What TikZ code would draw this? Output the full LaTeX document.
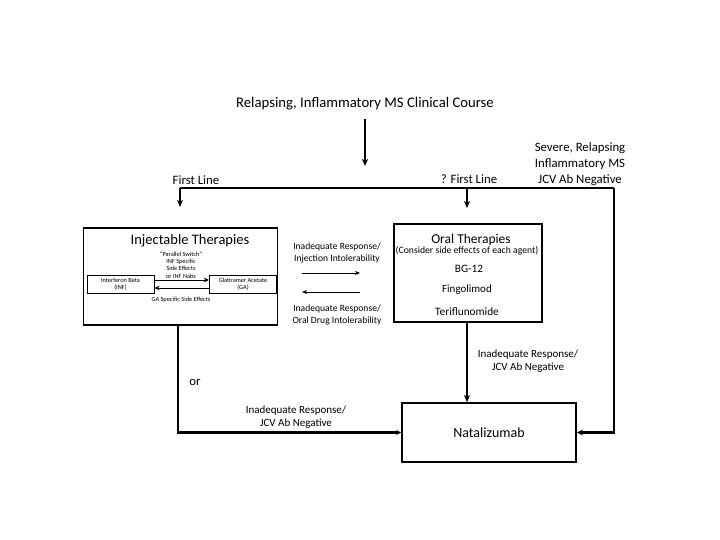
\documentclass[tikz,border=0pt]{standalone}
\usepackage{fontspec}
\setmainfont{Carlito}
\usetikzlibrary{arrows.meta}
\begin{document}
\begin{tikzpicture}[x=1pt,y=-1pt,
  mainline/.style={line width=2.2pt},
  boxline/.style={draw,line width=1.8pt,rectangle,inner sep=0pt},
  thinbox/.style={draw,line width=1pt,rectangle,inner sep=0pt},
  bigarrow/.style={mainline,-{Stealth[length=7pt,width=6pt,inset=2pt]}},
  smallarrow/.style={line width=0.9pt,-{Stealth[length=5pt,width=4.5pt,inset=1.5pt]}},
  lbl/.style={align=center,inner sep=0pt,font=\fontsize{12.8}{16}\selectfont},
  midlbl/.style={align=center,inner sep=0pt,font=\fontsize{9.6}{11.5}\selectfont},
  lowlbl/.style={align=center,inner sep=0pt,font=\fontsize{11}{13}\selectfont},
  tiny/.style={align=center,inner sep=0pt,font=\fontsize{6.3}{7.4}\selectfont}]
\useasboundingbox (0,0) rectangle (720,540);
\fill[white] (0,0) rectangle (720,540);

% title
\node[inner sep=0pt,font=\fontsize{14.7}{17}\selectfont] (title) at (365,104) {Relapsing, Inflammatory MS Clinical Course};
\coordinate (titlestart) at (365,119);
\coordinate (titleend) at (365,166);
\draw[bigarrow] (titlestart) -- (titleend);

% top distribution line
\coordinate (tl) at (180,188);
\coordinate (tm) at (467,188);
\coordinate (tr) at (614,188);
\coordinate (tlend) at (180,207);
\coordinate (tmend) at (467,208);

\node[lbl,anchor=base] (firstline) at (196,185) {First Line};
\node[lbl,anchor=base] (qfirst) at (469,183.5) {? First Line};
\node[lbl,anchor=base] (severe) at (580,184) {Severe, Relapsing\\Inflammatory MS\\JCV Ab Negative};

% boxes
\node[boxline,minimum width=194pt,minimum height=97pt] (inj) at (180.5,276.5) {};
\node[inner sep=0pt,font=\fontsize{14.5}{16}\selectfont] (injt) at (190,241) {Injectable Therapies};
\node[thinbox,minimum width=67pt,minimum height=18pt,tiny] (inf) at (120.5,284) {Interferon Beta\\(INF)};
\node[thinbox,minimum width=67pt,minimum height=18pt,tiny] (ga) at (243,284) {Glatiramer Acetate\\(GA)};
\node[tiny] (ps) at (181,265) {``Parallel Switch''\\INF Specific\\Side Effects\\or INF Nabs};
\node[tiny] (gas) at (181,300) {GA Specific Side Effects};
\draw[smallarrow] (inf.east |- 0,280) -- (ga.west |- 0,280);
\draw[smallarrow] (ga.west |- 0,288) -- (inf.east |- 0,288);

\node[boxline,minimum width=148pt,minimum height=98pt] (oral) at (468,273) {};
\node[inner sep=0pt,font=\fontsize{13.5}{15}\selectfont] (oralt) at (471,240) {Oral Therapies};
\node[inner sep=0pt,font=\fontsize{9.7}{11}\selectfont] (cons) at (467,251) {(Consider side effects of each agent)};
\node[inner sep=0pt,font=\fontsize{11.3}{13}\selectfont] (bg) at (469,269) {BG-12};
\node[inner sep=0pt,font=\fontsize{11}{13}\selectfont] (fin) at (467,290) {Fingolimod};
\node[inner sep=0pt,font=\fontsize{11.3}{13}\selectfont] (ter) at (467,312) {Teriflunomide};

\node[boxline,minimum width=174pt,minimum height=59pt,font=\fontsize{14}{16}\selectfont] (nat) at (489,432.5) {Natalizumab};

% middle switch arrows
\node[midlbl] (injint) at (337,253) {Inadequate Response/\\Injection Intolerability};
\coordinate (ma1) at (302,273);
\coordinate (ma2) at (360,273);
\coordinate (mb1) at (360,292);
\coordinate (mb2) at (302,292);
\draw[line width=0.8pt,-{Stealth[length=5pt,width=4pt]}] (ma1) -- (ma2);
\draw[line width=0.8pt,-{Stealth[length=5pt,width=4pt]}] (mb1) -- (mb2);
\node[midlbl] (oralint) at (337,315) {Inadequate Response/\\Oral Drug Intolerability};

% connectors
\draw[mainline] (tl) -- (tr);
\draw[bigarrow] (tl) -- (tlend);
\draw[bigarrow] (tm) -- (tmend);
\draw[mainline,-{Stealth[length=6pt,width=6pt,inset=2pt]}] (tr) |- (nat.east);
\draw[bigarrow] (oral.south -| tm) -- (nat.north -| tm);
\draw[mainline,-{Stealth[length=5pt,width=5pt,inset=1.5pt]}] (inj.south -| 178,0) |- (nat.west);

\node[lbl,anchor=base] (or) at (195,385) {or};
\node[lowlbl] (lowlbl) at (296,417) {Inadequate Response/\\JCV Ab Negative};
\node[lowlbl] (rlbl) at (528,361) {Inadequate Response/\\JCV Ab Negative};
\end{tikzpicture}
\end{document}
